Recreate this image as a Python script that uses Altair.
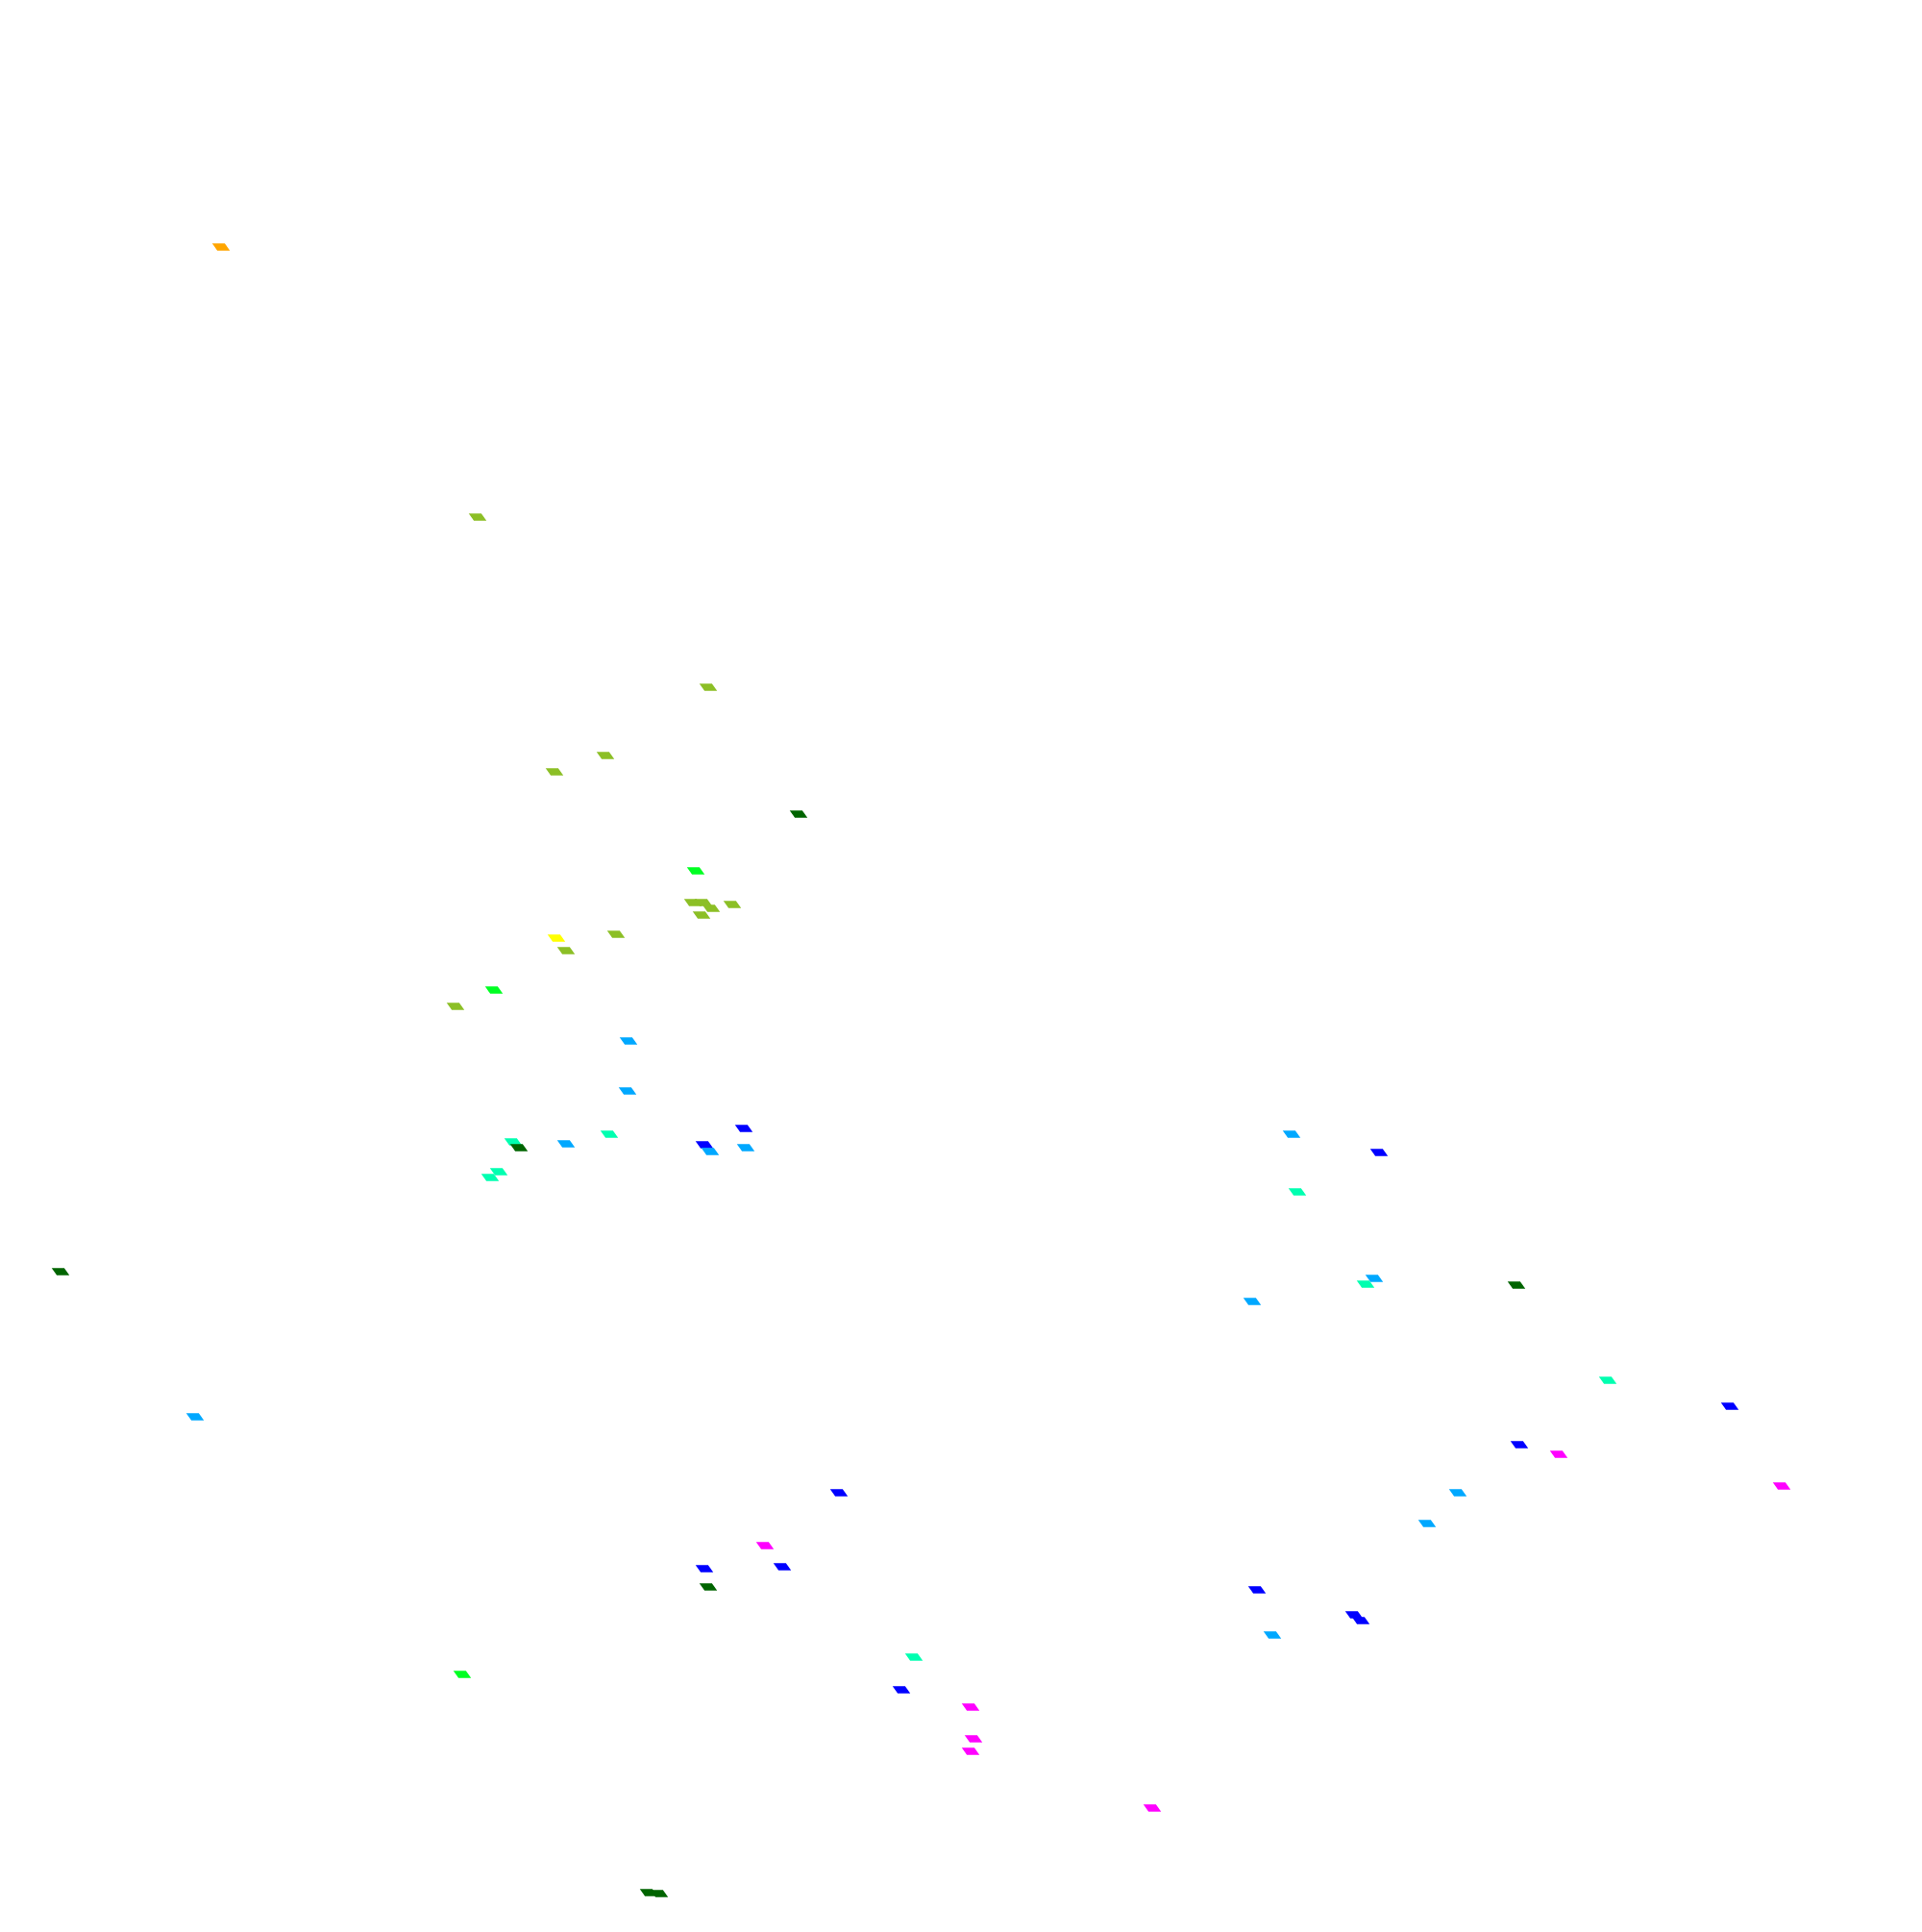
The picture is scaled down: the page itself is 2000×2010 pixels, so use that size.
import altair as alt
import pandas as pd

# values (unitless plane, no axes shown)
x_vals = [230, 497, 737, 630, 577, 831, 724,
          721, 732, 740, 730, 762,
          579, 589, 641, 514, 474, 654, 653,
          534, 540, 589, 634, 519, 510, 733, 739, 774, 776,
          1344, 1435, 1350, 63, 1430, 1421, 1303, 1578, 1673, 1800, 203,
          1581, 1622, 1854, 1517, 873, 1485, 796, 733, 814, 737, 1308,
          1409, 1416, 1324, 951, 481, 938, 1010, 1013, 1010, 1199, 675, 686]
y_vals = [257, 538, 715, 786, 803, 847, 906,
          939, 939, 945, 952, 941,
          976, 989, 972, 1030, 1047, 1083, 1135,
          1188, 1194, 1190, 1180, 1219, 1225, 1191, 1198, 1174, 1194,
          1180, 1199, 1240, 1323, 1330, 1336, 1354, 1337, 1436, 1463, 1474,
          1503, 1513, 1546, 1553, 1553, 1585, 1608, 1632, 1630, 1651, 1654,
          1680, 1686, 1701, 1724, 1742, 1758, 1776, 1809, 1822, 1881, 1969, 1970]
groups = ["orange", "yellowgreen", "yellowgreen", "yellowgreen", "yellowgreen", "darkgreen", "lime",
          "yellowgreen", "yellowgreen", "yellowgreen", "yellowgreen", "yellowgreen",
          "yellow", "yellowgreen", "yellowgreen", "lime", "yellowgreen", "sky", "sky",
          "spring", "darkgreen", "sky", "spring", "spring", "spring", "blue", "sky", "blue", "sky",
          "sky", "blue", "spring", "darkgreen", "sky", "spring", "sky", "darkgreen", "spring", "blue", "sky",
          "blue", "magenta", "magenta", "sky", "blue", "sky", "magenta", "blue", "blue", "darkgreen", "blue",
          "blue", "blue", "sky", "spring", "lime", "blue", "magenta", "magenta", "magenta", "magenta", "darkgreen", "darkgreen"]

cat_names = ["orange", "yellowgreen", "darkgreen", "lime", "yellow", "sky", "spring", "blue", "magenta"]
cat_colors = ["#ffa500", "#8cbf26", "#006400", "#00ff22", "#ffff00", "#00a8ff", "#00ffb0", "#0000ff", "#ff00ff"]

df = pd.DataFrame({"x": x_vals, "y": y_vals, "g": groups})

shape_path = "M -1 -0.42 L 0.42 -0.42 L 1 0.42 L -0.42 0.42 Z"

chart = alt.Chart(df).mark_point(
    shape=shape_path, filled=True, opacity=1, size=340, strokeWidth=0
).encode(
    x=alt.X("x:Q", scale=alt.Scale(domain=[8, 1992], nice=False, zero=False), axis=None),
    y=alt.Y("y:Q", scale=alt.Scale(domain=[8, 2002], nice=False, zero=False, reverse=True), axis=None),
    color=alt.Color("g:N", scale=alt.Scale(domain=cat_names, range=cat_colors), legend=None),
).properties(
    width=1984, height=1994, padding=0, autosize="none", background="white"
).configure_view(stroke=None)

chart.save("out.html", embed_options={"renderer": "svg", "actions": False})
